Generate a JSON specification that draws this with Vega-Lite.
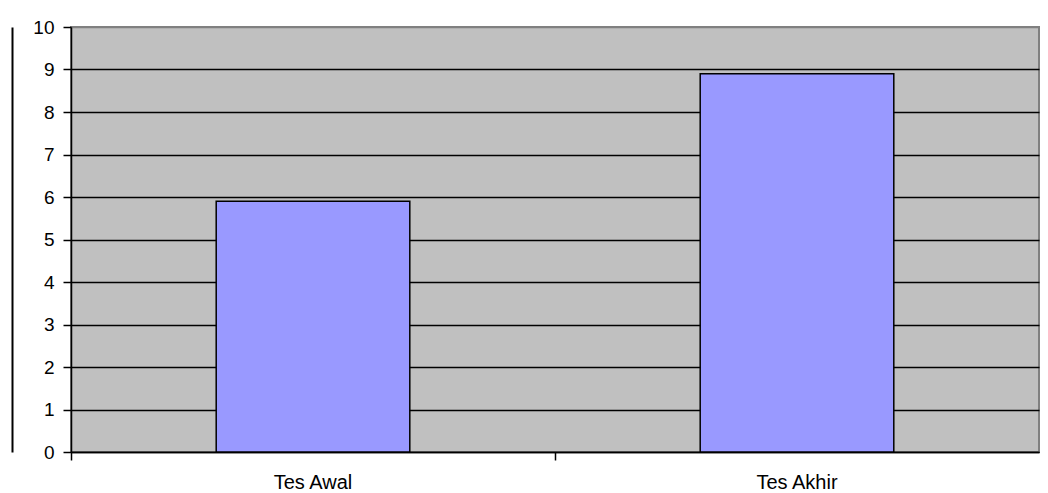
{
  "$schema": "https://vega.github.io/schema/vega-lite/v6.json",
  "width": 968,
  "height": 425,
  "autosize": {"type": "none"},
  "padding": {"left": 71, "top": 27, "right": 9, "bottom": 41},
  "background": "white",
  "config": {
    "view": {"fill": "#C0C0C0", "stroke": "#808080", "strokeWidth": 2},
    "font": "Liberation Sans"
  },
  "data": {"values": [
    {"tes": "Tes Awal", "nilai": 5.9},
    {"tes": "Tes Akhir", "nilai": 8.9}
  ]},
  "resolve": {"axis": {"y": "independent"}},
  "layer": [
    {
      "mark": {"type": "bar", "color": "#9999FF", "stroke": "#000000", "strokeWidth": 1.5},
      "encoding": {
        "x": {
          "field": "tes", "type": "nominal", "sort": null, "title": null,
          "scale": {"paddingInner": 0.6, "paddingOuter": 0.3},
          "axis": {
            "labelAngle": 0, "labelFontSize": 20, "labelColor": "#000000",
            "labelPadding": 12, "bandPosition": -0.75, "tickSize": 8,
            "tickColor": "#000000", "tickWidth": 1.5,
            "domainColor": "#000000", "domainWidth": 1.5, "grid": false
          }
        },
        "y": {
          "field": "nilai", "type": "quantitative", "title": null,
          "scale": {"domain": [0, 10], "nice": false},
          "axis": {
            "values": [0,1,2,3,4,5,6,7,8,9,10],
            "labelFontSize": 19, "labelColor": "#000000", "labelPadding": 9,
            "tickSize": 8, "tickColor": "#000000", "tickWidth": 1.5,
            "domainColor": "#000000", "domainWidth": 1.5,
            "grid": true,
            "gridColor": {"condition": {"test": "datum.value == 10", "value": "#808080"}, "value": "#000000"},
            "gridWidth": 1.3, "gridOpacity": 1
          }
        }
      }
    },
    {
      "mark": {"type": "bar", "opacity": 0},
      "encoding": {
        "x": {"field": "tes", "type": "nominal", "sort": null},
        "y": {
          "field": "nilai", "type": "quantitative",
          "axis": {
            "orient": "left", "offset": 59, "labels": false, "ticks": false,
            "grid": false, "title": null,
            "domainColor": "#000000", "domainWidth": 2
          }
        }
      }
    }
  ]
}
